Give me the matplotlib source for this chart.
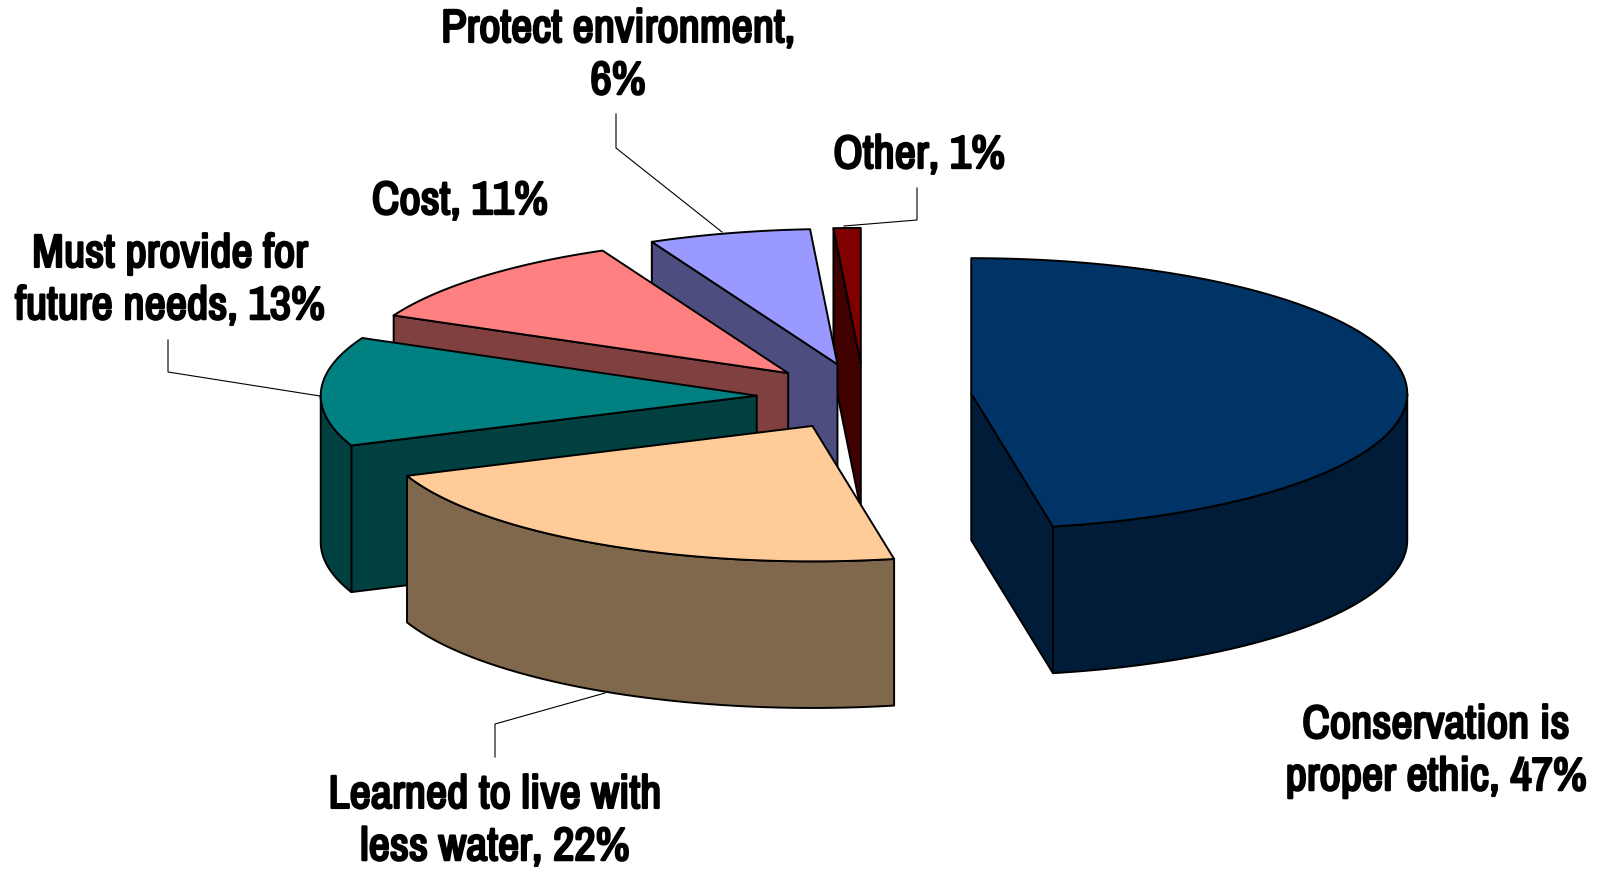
import numpy as np
import matplotlib
matplotlib.use("Agg")
import matplotlib.pyplot as plt
import matplotlib.patheffects as pe
from matplotlib import font_manager as fm

labels = ["Conservation is\nproper ethic, 47%", "Learned to live with\nless water, 22%",
          "Must provide for\nfuture needs, 13%", "Cost, 11%",
          "Protect environment,\n6%", "Other, 1%"]
values = [47, 22, 13, 11, 6, 1]
top_colors = ["#003366", "#FFCC99", "#008080", "#FF8080", "#9999FF", "#800000"]
side_colors = ["#001C38", "#80684D", "#004040", "#804040", "#4D4D80", "#400000"]

# pie geometry, pixels of the 1597x872 canvas
cx, cy = 864.2, 396.7
rx, ry = 436.0, 135.4
depth = 146.6
explode = 0.2466

label_pos = [(1436, 751), (495, 821), (170, 280), (460, 201), (618, 55), (919, 155)]
leaders = [None,
           [(495, 757), (495, 724), (605, 693)],
           [(168, 340), (168, 372), (320, 396)],
           None,
           [(616, 114), (616, 148), (722, 232)],
           [(917, 188), (917, 220), (844, 226)]]


def rim(center, angles):
    # angles in degrees, clockwise from 12 o'clock
    t = np.radians(angles)
    return np.column_stack([center[0] + rx * np.sin(t), center[1] - ry * np.cos(t)])


def extrude(points):
    down = points + [0, depth]
    return np.vstack([points, down[::-1]])


fig = plt.figure(figsize=(15.97, 8.72), dpi=100)
ax = fig.add_axes([0, 0, 1, 1])
ax.set_xlim(0, 1597)
ax.set_ylim(872, 0)
ax.axis("off")

edges = np.concatenate([[0], np.cumsum(values)]) / np.sum(values) * 360
lw = 1.4

# back slices first, so the front ones cover them
for i in range(len(values) - 1, -1, -1):
    a0, a1 = edges[i], edges[i + 1]
    mid = np.radians((a0 + a1) / 2)
    c = (cx + explode * rx * np.sin(mid), cy - explode * ry * np.cos(mid))
    apex = np.array([c])

    # cut faces
    if np.sin(np.radians(a0)) < -1e-6:
        face = extrude(np.vstack([rim(c, [a0]), apex]))
        ax.fill(face[:, 0], face[:, 1], fc=side_colors[i], ec="black", lw=lw, joinstyle="round")
    if np.sin(np.radians(a1)) > 1e-6:
        face = extrude(np.vstack([apex, rim(c, [a1])]))
        ax.fill(face[:, 0], face[:, 1], fc=side_colors[i], ec="black", lw=lw, joinstyle="round")

    # outer wall, only the part facing the viewer
    w0, w1 = max(a0, 90), min(a1, 270)
    if w1 > w0:
        face = extrude(rim(c, np.linspace(w0, w1, 80)))
        ax.fill(face[:, 0], face[:, 1], fc=side_colors[i], ec="black", lw=lw, joinstyle="round")

    # top face
    arc = rim(c, np.linspace(a0, a1, 120))
    top = np.vstack([apex, arc])
    ax.fill(top[:, 0], top[:, 1], fc=top_colors[i], ec="black", lw=lw, joinstyle="round")

for line in leaders:
    if line is not None:
        xs, ys = zip(*line)
        ax.plot(xs, ys, color="black", lw=0.8, solid_joinstyle="miter")

# Archivo Narrow only comes in one weight here, a thin stroke thickens it
installed = {f.name for f in fm.fontManager.ttflist}
narrow = "Archivo Narrow" in installed
for text, (x, y) in zip(labels, label_pos):
    t = ax.text(x, y, text, ha="center", va="center",
                fontsize=33.5 if narrow else 26,
                fontweight="normal" if narrow else "bold",
                family=["Archivo Narrow"] if narrow else ["Liberation Sans"],
                linespacing=1.3, color="black")
    if narrow:
        t.set_path_effects([pe.withStroke(linewidth=1.7, foreground="black")])

fig.savefig("out.png", dpi=100, facecolor="white")
